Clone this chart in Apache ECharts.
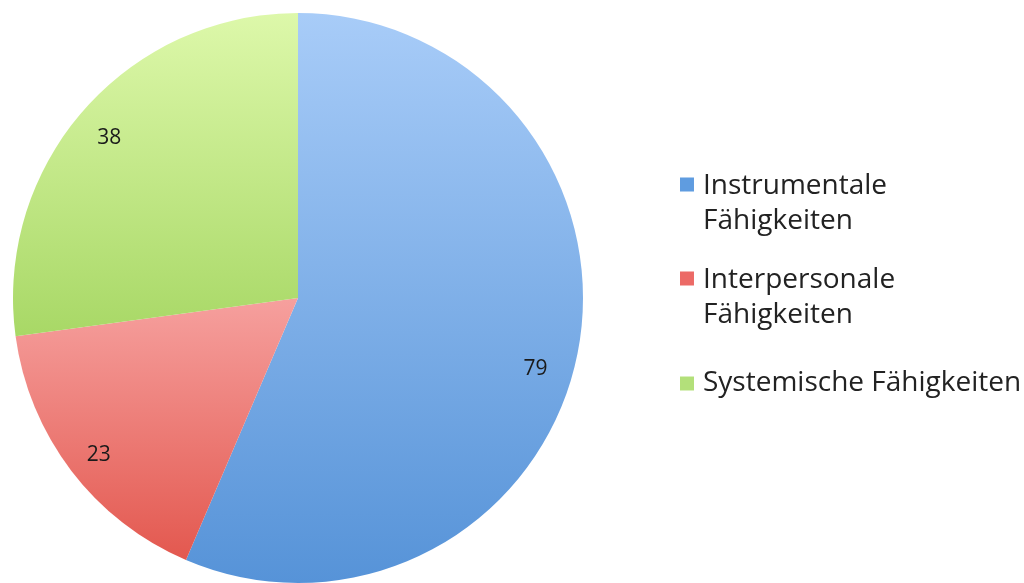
<!DOCTYPE html>
<html>
<head>
    <meta charset="utf-8"/>
    <title>Fähigkeiten</title>
    <script src="https://cdn.jsdelivr.net/npm/echarts@6.0.0/dist/echarts.min.js"></script>
    <style>
        html, body { margin: 0; padding: 0; background: #fff; }
    </style>
</head>
<body>
<div id="pie-chart" style="width: 1024px;height:583px;"></div>
<script type="text/javascript">
    var categories = ['Instrumentale\nFähigkeiten', 'Interpersonale\nFähigkeiten', 'Systemische Fähigkeiten'];
    var values = [79, 23, 38];

    var topColors = ['#a8ccf8', '#f6a09e', '#ddf8aa'];
    var bottomColors = ['#5693d8', '#e3584f', '#a8d866'];
    var legendColors = ['#5f9ce0', '#ec6a66', '#b3e07a'];

    function grad(i) {
        return new echarts.graphic.LinearGradient(0, 0, 0, 1, [
            { offset: 0, color: topColors[i] },
            { offset: 1, color: bottomColors[i] }
        ]);
    }

    var pieData = categories.map((name, i) => ({
        name: name,
        value: values[i],
        itemStyle: { color: grad(i) }
    }));

    // transparent ring only used to put the value labels near the rim
    var labelData = categories.map((name, i) => ({
        name: name,
        value: values[i],
        itemStyle: { color: 'rgba(0,0,0,0)' },
        label: i === 0 ? { offset: [-8, 16] } : {}
    }));

    // square sits on the first text line for two-line entries,
    // extra empty width pushes the text a bit further right
    var iconTop = 'path://M0,0L10,0L10,10L0,10Z M12.86,37.9L12.86,37.9';
    var iconMid = 'path://M0,13.95L10,13.95L10,23.95L0,23.95Z M0,0L0,0 M12.86,37.9L12.86,37.9';

    var font = '"Open Sans", sans-serif';

    var option = {
        animation: false,
        legend: {
            orient: 'vertical',
            left: 675,
            top: 164,
            itemWidth: 18,
            itemHeight: 53,
            itemGap: 24,
            data: categories.map((name, i) => ({
                name: name,
                icon: name.indexOf('\n') >= 0 ? iconTop : iconMid,
                itemStyle: { color: legendColors[i], borderWidth: 0 }
            })),
            textStyle: {
                fontFamily: font,
                fontSize: 28,
                lineHeight: 35,
                color: '#222'
            }
        },
        series: [
            {
                type: 'pie',
                center: [298, 298],
                radius: [0, 285],
                startAngle: 90,
                clockwise: true,
                silent: true,
                label: { show: false },
                labelLine: { show: false },
                data: pieData
            },
            {
                type: 'pie',
                center: [298, 303],
                radius: [210, 285],
                startAngle: 90,
                clockwise: true,
                silent: true,
                label: {
                    show: true,
                    position: 'inside',
                    formatter: '{c}',
                    fontFamily: font,
                    fontSize: 21,
                    color: '#1a1a1a'
                },
                labelLine: { show: false },
                data: labelData
            }
        ]
    };
    var pieChart = echarts.init(document.getElementById('pie-chart'));
    pieChart.setOption(option);
</script>
</body>
</html>
